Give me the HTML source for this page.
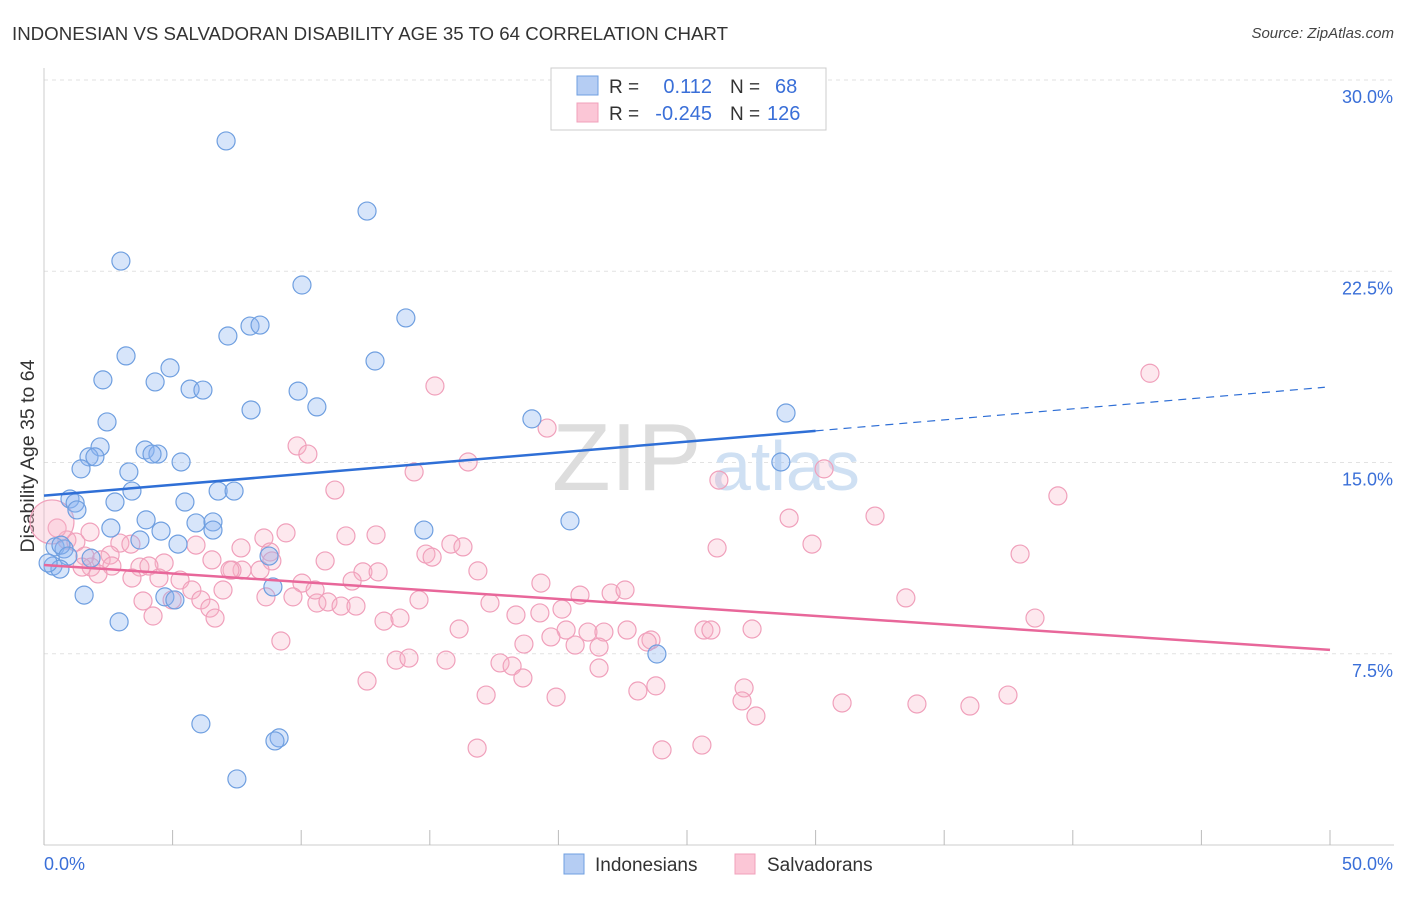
<!DOCTYPE html>
<html><head><meta charset="utf-8"><style>
body{margin:0;background:#fff;font-family:"Liberation Sans",sans-serif;}
svg text{font-family:"Liberation Sans",sans-serif;}
</style></head><body>
<svg id="chart" width="1406" height="892" xmlns="http://www.w3.org/2000/svg">
<text x="12" y="40" font-size="18" fill="#333" textLength="716" lengthAdjust="spacingAndGlyphs">INDONESIAN VS SALVADORAN DISABILITY AGE 35 TO 64 CORRELATION CHART</text>
<text x="1394" y="38" font-size="15" fill="#444" font-style="italic" text-anchor="end">Source: ZipAtlas.com</text>
<g id="grid"></g>
<g><text x="552" y="490" font-size="96" fill="#ddd" font-family="Liberation Serif">ZIP</text><text x="712" y="490" font-size="70" fill="#cfe0f3">atlas</text></g>
<g id="axes"></g>
<g id="marks"></g>
<g>
<rect x="551" y="68" width="275" height="62" fill="#fff" stroke="#ccc"/>
<rect x="577" y="76" width="21" height="19" fill="#b5cdf3" stroke="#6f9fe0"/>
<rect x="577" y="103" width="21" height="19" fill="#fbc6d6" stroke="#f0a0bb"/>
<text x="609" y="93" font-size="19" fill="#333">R =</text><text x="712" y="93" font-size="20" fill="#3a6fd8" text-anchor="end">0.112</text>
<text x="730" y="93" font-size="19" fill="#333">N =</text><text x="775" y="93" font-size="20" fill="#3a6fd8">68</text>
<text x="609" y="120" font-size="19" fill="#333">R =</text><text x="712" y="120" font-size="20" fill="#3a6fd8" text-anchor="end">-0.245</text>
<text x="730" y="120" font-size="19" fill="#333">N =</text><text x="767" y="120" font-size="20" fill="#3a6fd8">126</text>
</g>
<g>
<rect x="564" y="854" width="20" height="20" fill="#b5cdf3" stroke="#6f9fe0"/>
<text x="595" y="871" font-size="19" fill="#333">Indonesians</text>
<rect x="735" y="854" width="20" height="20" fill="#fbc6d6" stroke="#f0a0bb"/>
<text x="767" y="871" font-size="19" fill="#333">Salvadorans</text>
</g>
</svg>
<script>
const yTicks=[7.5,15,22.5,30];
const yTickLabels=["7.5%","15.0%","22.5%","30.0%"];
const xTicks=[0,5,10,15,20,25,30,35,40,45,50];
const blueX=[7.08,12.56,2.99,10.03,14.07,8.01,8.40,7.15,3.19,12.87,4.90,2.29,4.32,5.68,6.18,9.88,10.61,8.05,18.97,28.85,2.45,2.18,3.93,4.43,4.20,1.75,1.98,5.33,28.65,1.44,3.30,1.01,1.21,3.42,2.76,5.48,6.77,7.39,1.28,3.97,5.91,6.57,20.45,2.60,4.55,6.57,14.77,3.73,5.21,0.43,0.78,0.66,0.93,1.83,8.75,0.35,0.62,1.56,8.90,4.70,5.09,2.92,23.83,6.10,9.14,8.98,7.50,0.16];
const blueY=[27.61,24.86,22.90,21.96,20.67,20.35,20.39,19.96,19.18,18.98,18.71,18.24,18.16,17.88,17.84,17.80,17.18,17.06,16.71,16.94,16.59,15.61,15.49,15.33,15.33,15.22,15.22,15.02,15.02,14.75,14.63,13.57,13.41,13.88,13.45,13.45,13.88,13.88,13.14,12.75,12.63,12.67,12.71,12.43,12.31,12.35,12.35,11.96,11.80,11.69,11.61,11.76,11.33,11.25,11.33,10.94,10.82,9.80,10.12,9.73,9.61,8.75,7.49,4.75,4.20,4.08,2.59,11.06];
const pinkX=[43.0,15.2,19.56,9.84,10.26,16.49,30.33,14.39,26.24,11.31,39.42,32.31,28.97,9.41,12.91,8.55,11.74,15.82,16.29,29.86,26.17,37.95,14.85,15.09,1.79,0.89,0.51,1.24,2.95,3.38,2.57,2.22,1.59,4.67,5.91,7.66,6.53,8.79,8.86,7.70,7.31,8.40,10.93,12.40,12.99,16.87,2.64,3.73,1.83,1.48,4.08,2.10,3.42,4.47,5.29,7.23,10.03,11.98,19.32,22.05,20.84,22.59,6.96,5.75,3.85,4.98,6.10,10.61,8.63,9.68,10.54,11.04,11.55,12.13,6.45,6.65,4.24,14.58,17.34,20.14,18.35,19.28,33.51,38.53,13.22,13.84,16.14,20.30,21.15,21.77,22.67,19.71,20.65,18.66,21.58,23.60,23.45,25.66,25.93,27.53,9.21,13.69,14.19,15.63,17.73,18.20,21.58,12.56,18.62,23.79,23.09,27.22,27.14,17.19,19.91,27.68,31.03,33.94,36.00,37.48,16.84,24.03,25.58];
const pinkY=[18.5,18.0,16.35,15.65,15.33,15.02,14.75,14.63,14.31,13.92,13.69,12.90,12.82,12.24,12.16,12.04,12.12,11.80,11.69,11.80,11.65,11.41,11.41,11.29,12.27,11.96,12.43,11.88,11.84,11.80,11.37,11.18,11.33,11.06,11.76,11.65,11.18,11.49,11.14,10.78,10.78,10.78,11.14,10.71,10.71,10.75,10.94,10.90,10.90,10.90,10.94,10.63,10.47,10.47,10.39,10.78,10.27,10.35,10.27,9.88,9.80,10.00,10.00,10.00,9.57,9.61,9.61,9.49,9.73,9.73,10.00,9.53,9.37,9.37,9.29,8.90,8.98,9.61,9.49,9.25,9.02,9.10,9.69,8.90,8.78,8.90,8.47,8.43,8.35,8.35,8.43,8.16,7.84,7.88,7.76,8.04,7.96,8.43,8.43,8.47,8.00,7.25,7.33,7.25,7.14,7.02,6.94,6.43,6.55,6.24,6.04,6.16,5.65,5.88,5.80,5.06,5.57,5.53,5.45,5.88,3.80,3.73,3.92];
const bigPink=[0.31,12.67];
const blueFit=[13.7,16.24,17.95];
const pinkFit=[10.98,7.65];
const NS="http://www.w3.org/2000/svg";
const X=v=>44+v*25.72, Y=v=>845-v*25.5;
function mk(tag,attrs,parent){const e=document.createElementNS(NS,tag);for(const k in attrs)e.setAttribute(k,attrs[k]);parent.appendChild(e);return e;}
const grid=document.getElementById('grid'),axes=document.getElementById('axes'),marks=document.getElementById('marks');
yTicks.forEach((t,i)=>{
 const l=mk('line',{x1:44,x2:1394,y1:Y(t),y2:Y(t),stroke:'#e2e2e2','stroke-dasharray':'4,4'},grid);
 
 
 const tx=mk('text',{x:1393,y:Y(t)+23,'font-size':18,fill:'#3a6fd8','text-anchor':'end'},axes);
 tx.textContent=yTickLabels[i];
 
 
});
const ax=mk('line',{x1:44,x2:1394,y1:845,y2:845,stroke:'#ccc'},axes);


const ay=mk('line',{x1:44,x2:44,y1:68,y2:845,stroke:'#ccc'},axes);


xTicks.forEach(t=>{const l=mk('line',{x1:X(t),x2:X(t),y1:830,y2:845,stroke:'#bbb'},axes);
 
 });
let t1=mk('text',{x:44,y:870,'font-size':18,fill:'#3a6fd8'},axes);t1.textContent='0.0%';


let t2=mk('text',{x:1393,y:870,'font-size':18,fill:'#3a6fd8','text-anchor':'end'},axes);t2.textContent='50.0%';


let yt=mk('text',{x:34,y:456,'font-size':19.5,fill:'#333','text-anchor':'middle',transform:'rotate(-90 34 456)'},axes);yt.textContent='Disability Age 35 to 64';


pinkX.forEach((v,i)=>{const c=mk('circle',{cx:X(v),cy:Y(pinkY[i]),r:9,fill:'rgba(248,180,200,0.3)',stroke:'#f0a0bb','stroke-width':1.2},marks);
 
 });
const bp=mk('circle',{cx:X(bigPink[0]),cy:Y(bigPink[1]),r:22,fill:'rgba(248,180,200,0.35)',stroke:'#f0a0bb','stroke-width':1.2},marks);


blueX.forEach((v,i)=>{const c=mk('circle',{cx:X(v),cy:Y(blueY[i]),r:9,fill:'rgba(140,180,240,0.35)',stroke:'#6f9fe0','stroke-width':1.2},marks);
 
 });
const bl=mk('line',{x1:X(0),y1:Y(blueFit[0]),x2:X(30),y2:Y(blueFit[1]),stroke:'#2f6fd6','stroke-width':2.5},marks);


const bd=mk('line',{x1:X(30),y1:Y(blueFit[1]),x2:X(49.8),y2:Y(blueFit[2]),stroke:'#2f6fd6','stroke-width':1.2,'stroke-dasharray':'8,6'},marks);


const pl=mk('line',{x1:X(0),y1:Y(pinkFit[0]),x2:X(50),y2:Y(pinkFit[1]),stroke:'#e8679a','stroke-width':2.5},marks);


</script>
</body></html>
